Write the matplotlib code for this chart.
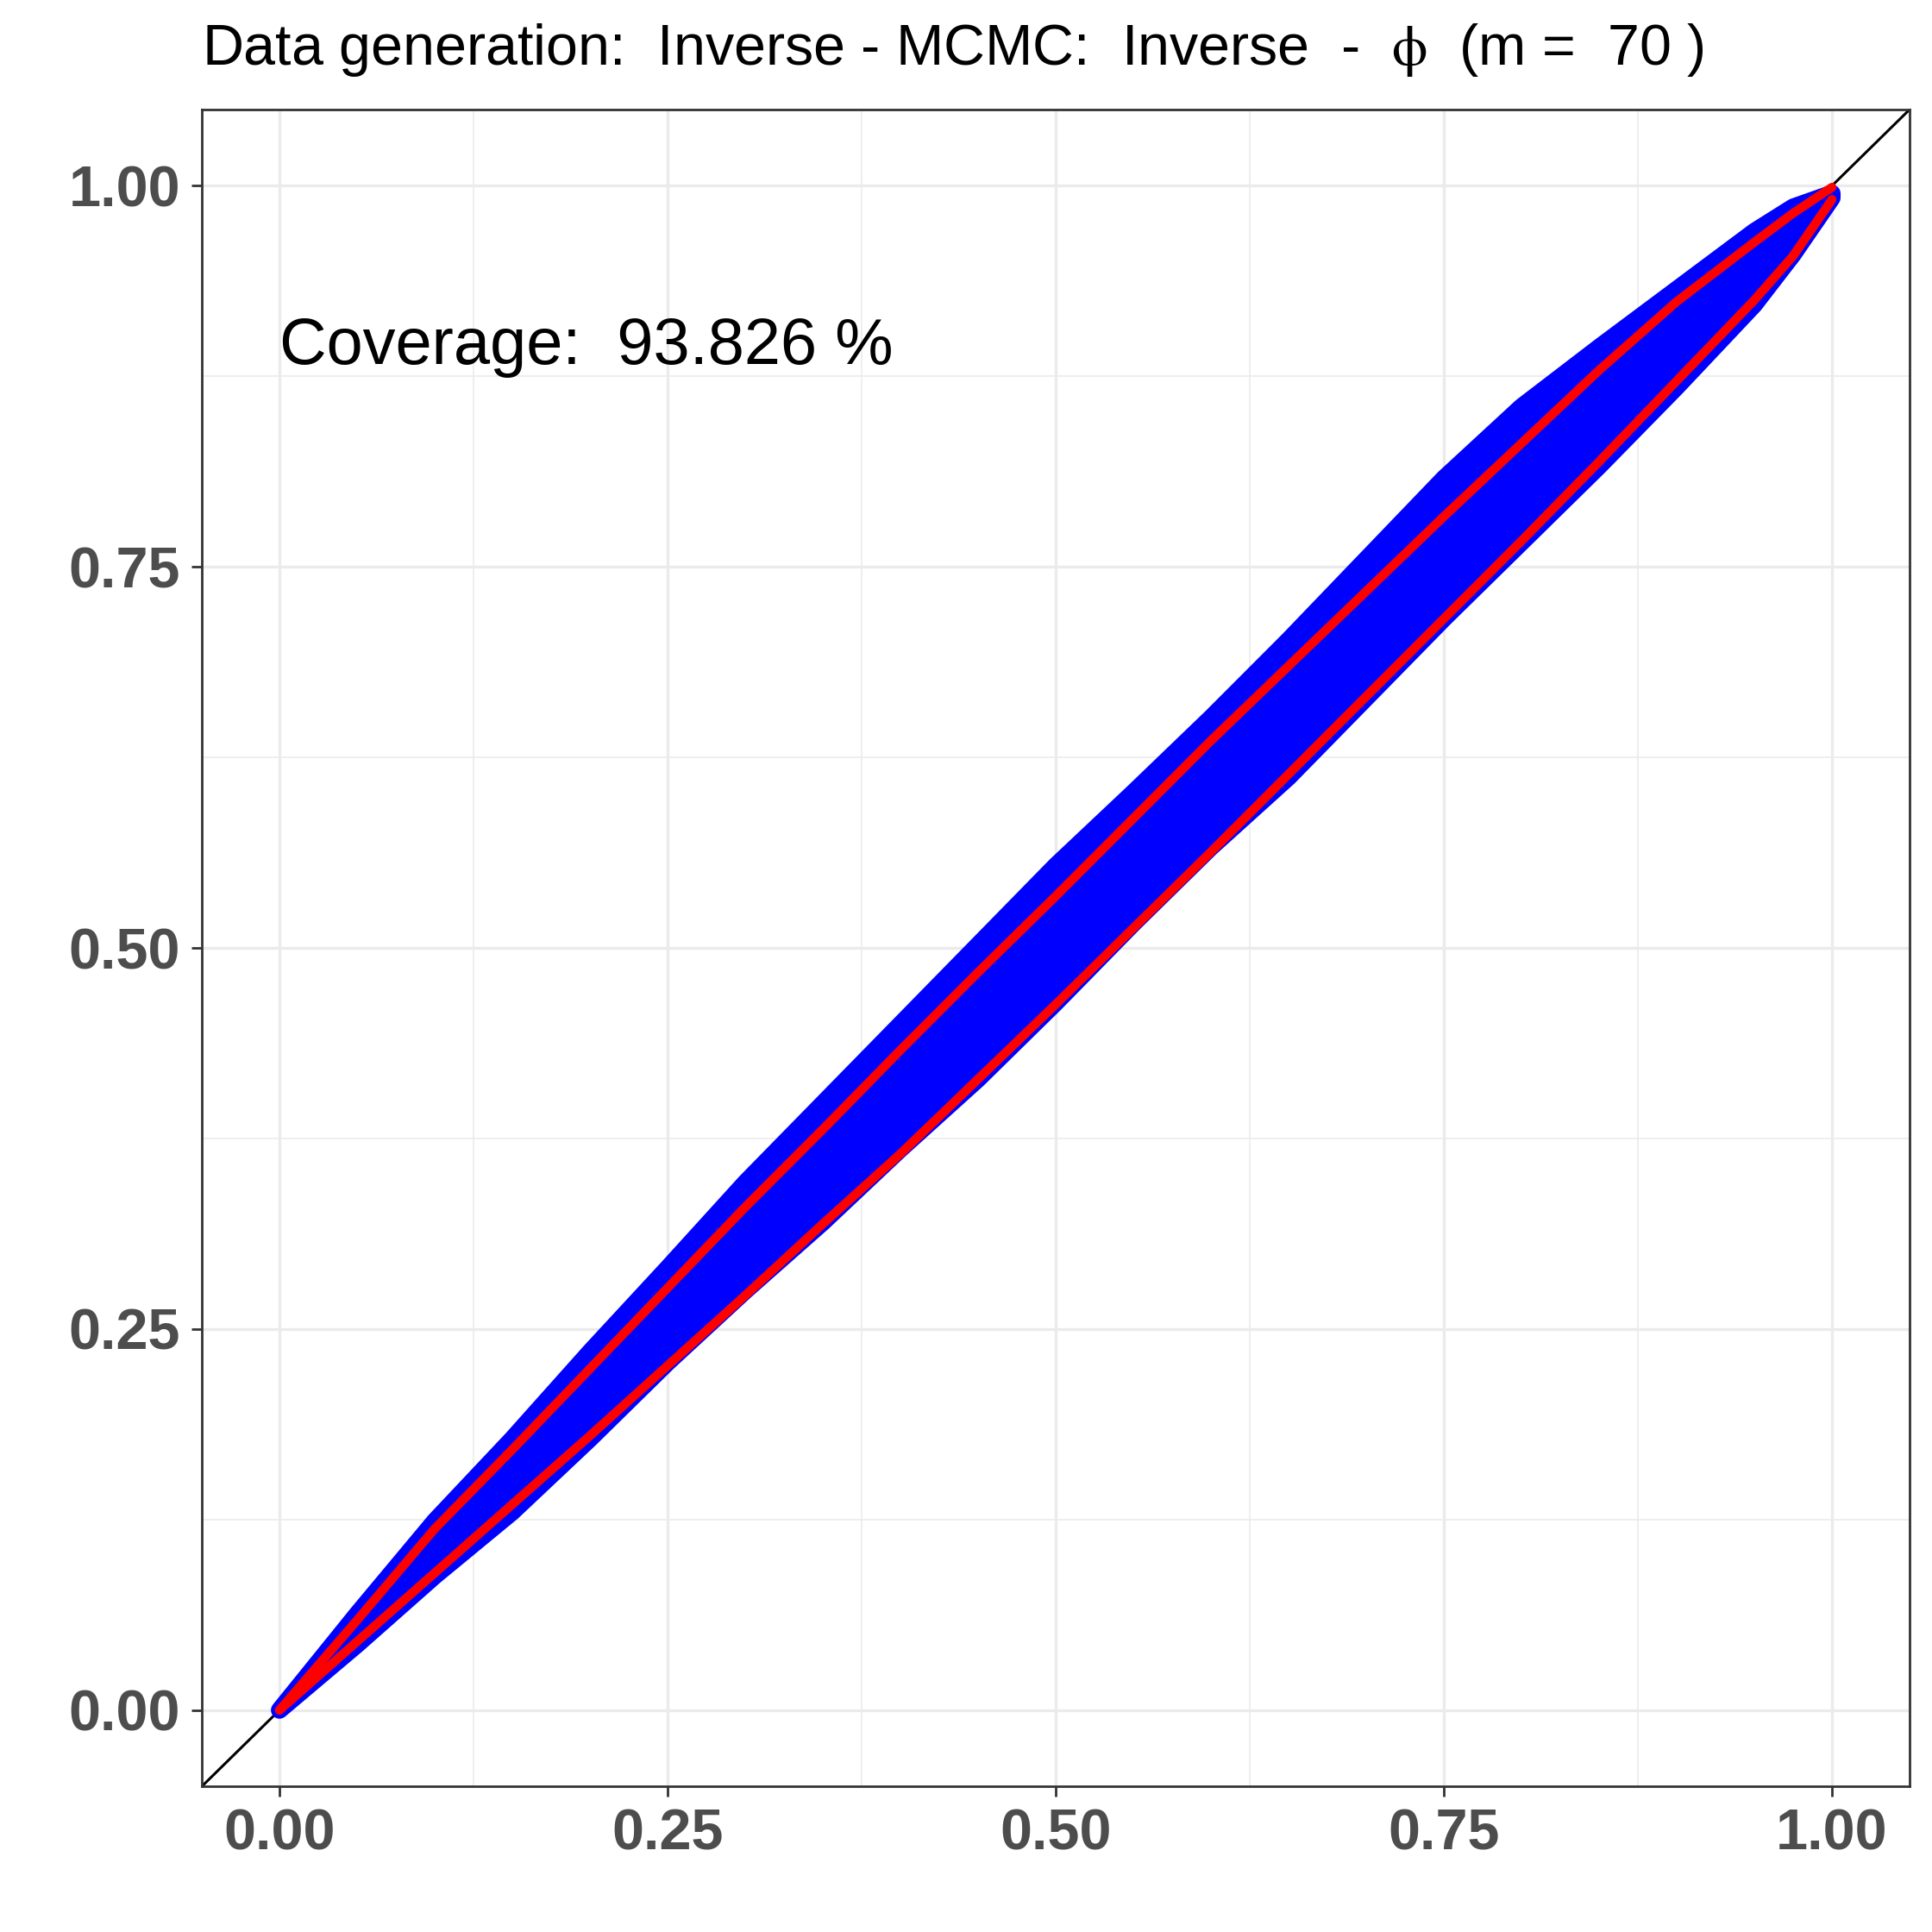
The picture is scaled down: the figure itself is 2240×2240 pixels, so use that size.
import matplotlib
matplotlib.use("Agg")
import matplotlib.pyplot as plt
from matplotlib.ticker import MultipleLocator

# probability grid (x) and the curves
x_vals = [0.0, 0.05, 0.1, 0.15, 0.2, 0.25, 0.3, 0.35, 0.4, 0.45, 0.5,
          0.55, 0.6, 0.65, 0.7, 0.75, 0.8, 0.85, 0.9, 0.95, 0.975, 1.0]
upper_red = [0.0, 0.059, 0.119, 0.171, 0.224, 0.277, 0.330, 0.381, 0.433, 0.484, 0.534,
             0.585, 0.636, 0.685, 0.734, 0.783, 0.831, 0.879, 0.924, 0.963, 0.982, 0.999]
lower_red = [0.0, 0.045, 0.090, 0.135, 0.180, 0.226, 0.272, 0.319, 0.365, 0.414, 0.463,
             0.513, 0.563, 0.614, 0.665, 0.716, 0.767, 0.819, 0.872, 0.925, 0.954, 0.991]
# outer limits of the blue point cloud (point centres)
blue_top = [0.0, 0.063, 0.124, 0.178, 0.235, 0.290, 0.346, 0.398, 0.450, 0.502, 0.554,
            0.602, 0.651, 0.702, 0.755, 0.808, 0.855, 0.894, 0.932, 0.970, 0.986, 0.995]
blue_bottom = [0.0, 0.043, 0.088, 0.130, 0.178, 0.228, 0.275, 0.320, 0.368, 0.414, 0.464,
               0.516, 0.566, 0.612, 0.664, 0.716, 0.766, 0.816, 0.868, 0.922, 0.955, 0.992]

tick_vals = [0.0, 0.25, 0.5, 0.75, 1.0]
tick_labels = ["0.00", "0.25", "0.50", "0.75", "1.00"]
title_text = "Data generation:  Inverse - MCMC:  Inverse  -  $\\phi$  (m =  70 )"
coverage = 93.826

plt.rcParams["font.family"] = ["Liberation Sans", "DejaVu Sans"]
plt.rcParams["mathtext.fontset"] = "stix"
plt.rcParams["mathtext.default"] = "rm"

fig = plt.figure(figsize=(22.4, 22.4), dpi=100)
ax = fig.add_axes([0.1045, 0.0754, 0.8839, 0.8679])

# background grid like theme_bw
ax.set_axisbelow(True)
ax.xaxis.set_minor_locator(MultipleLocator(0.125))
ax.yaxis.set_minor_locator(MultipleLocator(0.125))
ax.grid(which="major", color="#EBEBEB", linewidth=2.4)
ax.grid(which="minor", color="#EBEBEB", linewidth=1.2)

# reference diagonal
ax.axline((0, 0), (1, 1), color="black", linewidth=2.2, zorder=1.5)

# blue cloud: polygon through the outer points, thick edge = point radius
poly_x = x_vals + x_vals[::-1]
poly_y = blue_top + blue_bottom[::-1]
ax.fill(poly_x, poly_y, facecolor="#0000FF", edgecolor="#0000FF",
        linewidth=14.4, joinstyle="round", zorder=2)

# red bounds
ax.plot(x_vals, upper_red, color="#FF0000", linewidth=7.5,
        solid_capstyle="round", solid_joinstyle="round", zorder=3)
ax.plot(x_vals, lower_red, color="#FF0000", linewidth=7.5,
        solid_capstyle="round", solid_joinstyle="round", zorder=3)

ax.text(0.0, 0.883, f"Coverage:  {coverage} %", fontsize=54.5,
        ha="left", va="baseline", color="black", zorder=4)

ax.set_xlim(-0.05, 1.05)
ax.set_ylim(-0.05, 1.05)
ax.set_xticks(tick_vals)
ax.set_yticks(tick_vals)
ax.set_xticklabels(tick_labels, fontweight="bold")
ax.set_yticklabels(tick_labels, fontweight="bold")
ax.tick_params(which="major", length=8.6, width=2, color="#333333",
               labelsize=48, labelcolor="#4D4D4D", pad=9.5)
ax.tick_params(which="minor", length=0)
for sp in ax.spines.values():
    sp.set_color("#333333")
    sp.set_linewidth(2.0)

fig.text(234 / 2240, 1 - 75 / 2240, title_text, ha="left", va="baseline",
         fontsize=47.8, color="black")

fig.savefig("out.png", dpi=100, facecolor="white")
